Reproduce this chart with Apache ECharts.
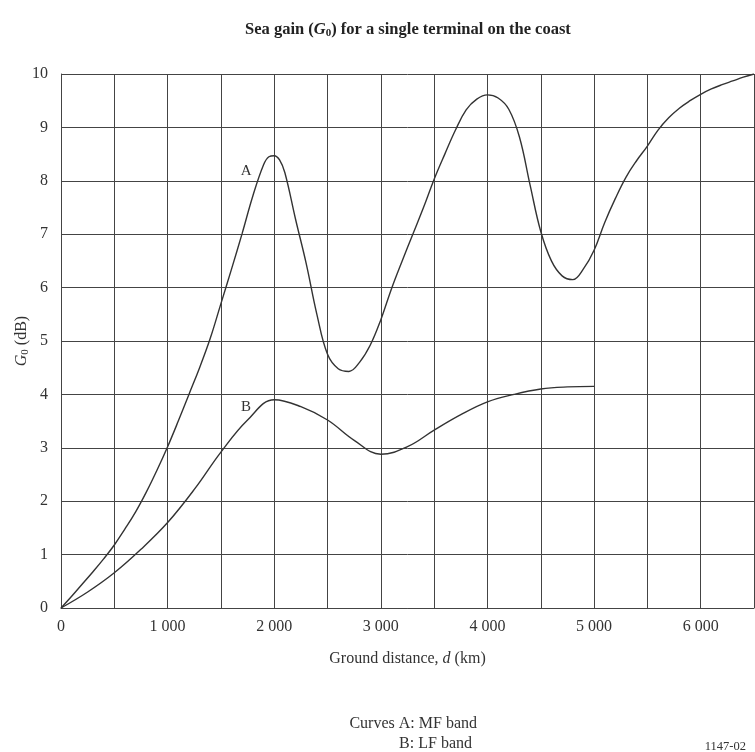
<!DOCTYPE html>
<html>
<head>
<meta charset="utf-8">
<script src="https://cdn.jsdelivr.net/npm/echarts@6/dist/echarts.min.js"></script>
<style>
html,body{margin:0;padding:0;background:#fff;}
#chart{width:755px;height:752px;}
</style>
</head>
<body>
<div id="chart"></div>
<script>
// Curve A: MF band  [distance km, G0 dB]
var curveA = [
  [0,0],[100,0.22],[200,0.45],[300,0.68],[400,0.92],[500,1.18],[600,1.48],[700,1.8],
  [800,2.17],[900,2.58],[1000,3.02],[1100,3.5],[1200,4.0],[1300,4.5],[1400,5.05],
  [1500,5.7],[1600,6.35],[1700,7.02],[1800,7.72],[1900,8.3],[1950,8.45],[2000,8.47],
  [2050,8.39],[2100,8.15],[2200,7.28],[2300,6.45],[2400,5.5],[2500,4.75],[2600,4.48],
  [2700,4.43],[2800,4.6],[2900,4.92],[3000,5.4],[3100,5.98],[3200,6.5],[3300,7.0],
  [3400,7.5],[3500,8.03],[3600,8.5],[3700,8.95],[3800,9.33],[3900,9.53],[4000,9.61],
  [4100,9.55],[4200,9.34],[4300,8.82],[4400,7.92],[4500,7.05],[4600,6.5],[4700,6.22],
  [4800,6.15],[4900,6.35],[5000,6.7],[5100,7.22],[5200,7.67],[5300,8.07],[5400,8.38],
  [5500,8.65],[5600,8.95],[5700,9.18],[5800,9.36],[5900,9.5],[6000,9.62],[6100,9.72],
  [6200,9.8],[6300,9.87],[6400,9.94],[6500,10.0]
];
// Curve B: LF band
var curveB = [
  [0,0],[250,0.3],[500,0.66],[750,1.1],[1000,1.6],[1250,2.22],[1500,2.92],[1750,3.52],
  [2000,3.9],[2250,3.77],[2500,3.52],[2750,3.14],[3000,2.88],[3250,3.02],[3500,3.33],
  [3750,3.62],[4000,3.86],[4250,4.0],[4500,4.1],[4750,4.14],[5000,4.15]
];
var curveLabels = [
  {name: 'A', coord: [1736, 8.18]},
  {name: 'B', coord: [1736, 3.76]}
];
var xTickLabels = {0:'0',1000:'1 000',2000:'2 000',3000:'3 000',4000:'4 000',5000:'5 000',6000:'6 000'};

var serif = '"Liberation Serif","DejaVu Serif",serif';
var chart = echarts.init(document.getElementById('chart'));
var lineStyle = {color:'#333', width:1.4};
chart.setOption({
  animation:false,
  backgroundColor:'#fff',
  title:{
    text:'{b|Sea gain (}{bi|G}{sub|0}{b|) for a single terminal on the coast}',
    left:240, top:16,
    textStyle:{
      rich:{
        b:{fontFamily:serif,fontSize:16.5,fontWeight:'bold',color:'#222'},
        bi:{fontFamily:serif,fontSize:16.5,fontWeight:'bold',fontStyle:'italic',color:'#222'},
        sub:{fontFamily:serif,fontSize:11,fontWeight:'bold',color:'#222',verticalAlign:'bottom',padding:[7,0,0,0]}
      }
    }
  },
  grid:{left:61,right:1,top:74,bottom:144,containLabel:false,outerBoundsMode:'none'},
  xAxis:{
    type:'value', min:0, max:6500, interval:500,
    axisLine:{show:true,lineStyle:{color:'#444',width:1}},
    axisTick:{show:false},
    splitLine:{show:true,lineStyle:{color:'#444',width:1}},
    axisLabel:{
      margin:11, color:'#333', fontFamily:serif, fontSize:16,
      formatter:function(v){ return xTickLabels[v]!==undefined ? xTickLabels[v] : ''; }
    },
    name:'{n|Ground distance, }{i|d}{n| (km)}',
    nameLocation:'middle', nameGap:43, nameMoveOverlap:false,
    nameTextStyle:{rich:{
      n:{fontFamily:serif,fontSize:16,color:'#333'},
      i:{fontFamily:serif,fontSize:16,fontStyle:'italic',color:'#333'}
    }}
  },
  yAxis:{
    type:'value', min:0, max:10, interval:1,
    axisLine:{show:true,lineStyle:{color:'#444',width:1}},
    axisTick:{show:false},
    splitLine:{show:true,lineStyle:{color:'#444',width:1}},
    axisLabel:{margin:13,color:'#333',fontFamily:serif,fontSize:16},
    name:'{i|G}{sub|0}{n| (dB)}',
    nameLocation:'middle', nameGap:30, nameRotate:90, nameMoveOverlap:false,
    nameTextStyle:{rich:{
      n:{fontFamily:serif,fontSize:16,color:'#333'},
      i:{fontFamily:serif,fontSize:16,fontStyle:'italic',color:'#333'},
      sub:{fontFamily:serif,fontSize:11,color:'#333',verticalAlign:'bottom',padding:[7,0,0,0]}
    }}
  },
  series:[
    {type:'line', name:'A', data:curveA, smooth:0.4, showSymbol:false, lineStyle:lineStyle,
     markPoint:{symbol:'circle',symbolSize:0,
       label:{show:true,formatter:'{b}',color:'#333',fontFamily:serif,fontSize:15,position:'inside'},
       data:[curveLabels[0]]}},
    {type:'line', name:'B', data:curveB, smooth:0.4, showSymbol:false, lineStyle:lineStyle,
     markPoint:{symbol:'circle',symbolSize:0,
       label:{show:true,formatter:'{b}',color:'#333',fontFamily:serif,fontSize:15,position:'inside'},
       data:[curveLabels[1]]}}
  ],
  graphic:[
    {type:'text', right:278, top:716, style:{text:'Curves A: MF band', font:'16px '+serif, fill:'#333', textAlign:'right'}},
    {type:'text', right:283, top:736, style:{text:'B: LF band', font:'16px '+serif, fill:'#333', textAlign:'right'}},
    {type:'text', right:9, top:740, style:{text:'1147-02', font:'12.5px '+serif, fill:'#333', textAlign:'right'}}
  ]
});
</script>
</body>
</html>
